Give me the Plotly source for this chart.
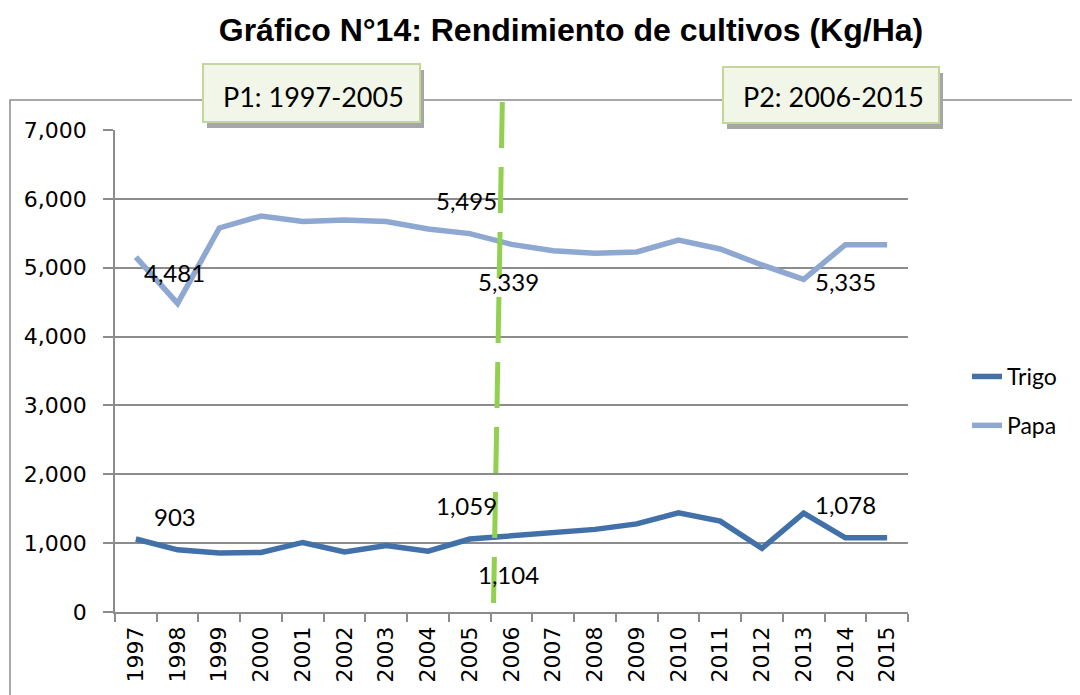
import plotly.graph_objects as go

# ---- data ----
years = [str(y) for y in range(1997, 2016)]
trigo = [1060, 903, 858, 865, 1010, 872, 965, 883, 1059, 1104,
         1160, 1200, 1280, 1440, 1320, 925, 1435, 1078, 1078]
papa = [5155, 4481, 5577, 5751, 5670, 5693, 5670, 5562, 5495, 5339,
        5245, 5210, 5228, 5402, 5272, 5040, 4830, 5335, 5335]
y_ticks = [0, 1000, 2000, 3000, 4000, 5000, 6000, 7000]
period_labels = ["P1: 1997-2005", "P2: 2006-2015"]
# labelled points: (year, pixel shift x, pixel shift y)
trigo_labels = [("1998", -3, 33), ("2005", -3, 34), ("2006", -3, -39), ("2014", 0, 33)]
papa_labels = [("1998", -3, 31), ("2005", -3, 33), ("2006", -3, -37), ("2014", 0, -37)]

# the page puts the figure 8px in from the top-left corner
OFF = 8
W, H = 1080 - OFF, 695 - OFF
L, T = 115 - OFF, 130 - OFF
R = W - (908 - OFF)
B = H - (612 - OFF)
PW, PH = W - L - R, H - T - B

def px(xp):  # reference screen x -> paper x
    return (xp - OFF - L) / PW

def py(yp):  # reference screen y -> paper y
    return (H - B - (yp - OFF)) / PH

C_TRIGO = "#4271A9"
C_PAPA = "#8EA8D1"
C_GRID = "#8C8C8C"
C_GREEN = "#92D050"
BOX_FILL = "#F1F6E8"

fig = go.Figure()
fig.add_trace(go.Scatter(x=years, y=trigo, mode="lines", name="Trigo",
                         line=dict(color=C_TRIGO, width=5.5), legendgroup="a"))
fig.add_trace(go.Scatter(x=years, y=papa, mode="lines", name="Papa",
                         line=dict(color=C_PAPA, width=5.5), legendgroup="b"))

annotations = []
lab_font = dict(family="Lato, Carlito, sans-serif", size=24, color="#000000")
for series, labels in ((trigo, trigo_labels), (papa, papa_labels)):
    for yr, dx, dy in labels:
        i = years.index(yr)
        v = series[i]
        annotations.append(dict(x=i, y=v, xref="x", yref="y", text=f"{v:,}",
                                showarrow=False, xanchor="center", yanchor="middle",
                                xshift=dx, yshift=dy, font=lab_font))

shapes = []
# outer chart frame (extends beyond the page on the right and bottom)
shapes.append(dict(type="rect", xref="paper", yref="paper",
                   x0=px(10), x1=px(1200), y0=py(800), y1=py(100),
                   line=dict(color=C_GRID, width=1.5), fillcolor="rgba(0,0,0,0)",
                   layer="above"))
# period boxes with shadow
boxes = [(203, 420, 64, 122), (723, 939, 67, 123)]
for (x0, x1, y0, y1), txt in zip(boxes, period_labels):
    shapes.append(dict(type="rect", xref="paper", yref="paper",
                       x0=px(x0 + 4), x1=px(x1 + 4), y0=py(y1 + 6), y1=py(y0 + 6),
                       line=dict(width=0), fillcolor="#A6A6A6", layer="above"))
    shapes.append(dict(type="rect", xref="paper", yref="paper",
                       x0=px(x0), x1=px(x1), y0=py(y1), y1=py(y0),
                       line=dict(color="#C3D69B", width=2), fillcolor=BOX_FILL,
                       layer="above"))
    annotations.append(dict(x=px((x0 + x1) / 2 + 2), y=py(96), xref="paper", yref="paper",
                            text=txt, showarrow=False, xanchor="center", yanchor="middle",
                            font=dict(family="Lato, Carlito, sans-serif", size=27,
                                      color="#000000")))
# green dashed divider between the two periods
shapes.append(dict(type="line", xref="x", yref="paper",
                   x0=8.78, x1=8.57, y0=py(102), y1=py(603),
                   line=dict(color=C_GREEN, width=5, dash="46px,19px"), layer="above"))

tick_font = dict(family="DejaVu Sans, Verdana, sans-serif", size=22, color="#000000")
fig.update_layout(
    width=W, height=H,
    margin=dict(l=L, r=R, t=T, b=B),
    paper_bgcolor="white", plot_bgcolor="white",
    title=dict(text="<b>Gráfico N°14: Rendimiento de cultivos (Kg/Ha)</b>",
               x=(571 - OFF) / W, xanchor="center", y=1 - (30 - OFF) / H, yanchor="middle",
               font=dict(family="Liberation Sans, Arial, sans-serif", size=32,
                         color="#000000")),
    showlegend=True,
    legend=dict(x=px(967), y=py(401), xanchor="left", yanchor="middle",
                font=dict(family="Lato, Carlito, sans-serif", size=23, color="#000000"),
                tracegroupgap=16, bgcolor="rgba(0,0,0,0)"),
    xaxis=dict(type="category", range=[-0.5, 18.5], tickson="boundaries",
               showgrid=False, showline=True, linecolor=C_GRID, linewidth=1.5,
               ticks="outside", ticklen=8, tickcolor=C_GRID, tickwidth=1.5,
               tickangle=-90, tickfont=tick_font, ticklabelstandoff=4),
    yaxis=dict(range=[0, 7000], tickvals=y_ticks, tickformat=",d",
               showgrid=True, gridcolor=C_GRID, gridwidth=1.5,
               showline=True, linecolor=C_GRID, linewidth=1.5,
               ticks="outside", ticklen=10, tickcolor=C_GRID, tickwidth=1.5,
               zeroline=False, tickfont=tick_font, ticklabelstandoff=12),
    shapes=shapes,
    annotations=annotations,
)

fig.write_html("out.html")
